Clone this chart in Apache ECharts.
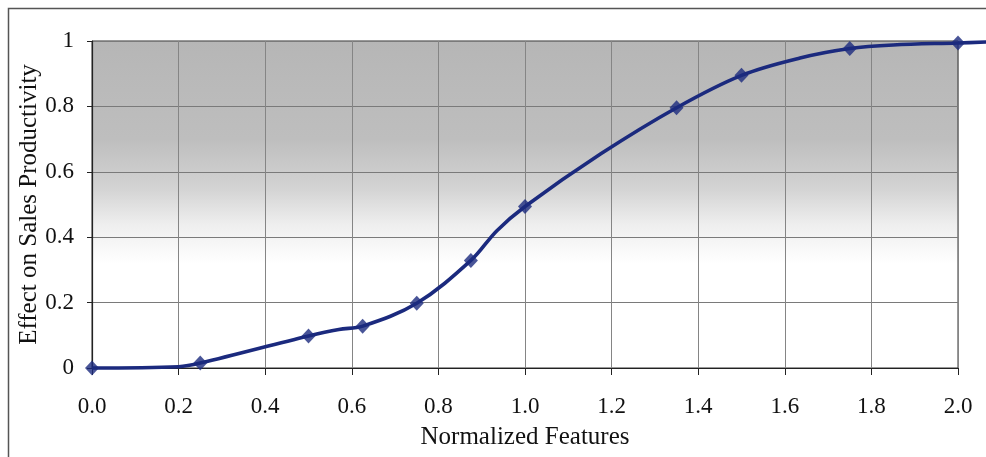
<!DOCTYPE html>
<html>
<head>
<meta charset="utf-8">
<script src="https://cdn.jsdelivr.net/npm/echarts@6/dist/echarts.min.js"></script>
<style>html,body{margin:0;padding:0;background:#fff;}#c{width:986px;height:457px;}</style>
</head>
<body>
<div id="c"></div>
<script>
// Marked data points
const markX = [0, 0.25, 0.5, 0.625, 0.75, 0.875, 1.0, 1.35, 1.5, 1.75, 2.0];
const markY = [0, 0.015, 0.098, 0.128, 0.198, 0.329, 0.494, 0.796, 0.895, 0.977, 0.994];
// Unmarked points along the drawn curve (shape of the line between markers)
const curveX = [0, 0.2, 0.25, 0.5, 0.57, 0.625, 0.75, 0.875, 0.935, 1.0, 1.175, 1.35, 1.5, 1.635, 1.75, 1.85, 2.0, 2.065];
const curveY = [0, 0.004, 0.015, 0.098, 0.118, 0.128, 0.198, 0.329, 0.42, 0.494, 0.655, 0.796, 0.895, 0.948, 0.977, 0.988, 0.994, 0.997];
const xTicks = ['0.0','0.2','0.4','0.6','0.8','1.0','1.2','1.4','1.6','1.8','2.0'];

const lineColor = '#1b2a7e';
const font = '"Liberation Serif", "Times New Roman", serif';

const chart = echarts.init(document.getElementById('c'));
chart.setOption({
  animation: false,
  backgroundColor: '#fff',
  graphic: [{
    type: 'rect', silent: true, z: 100,
    shape: {x: 8.5, y: 8.5, width: 1100, height: 600},
    style: {fill: 'none', stroke: '#555', lineWidth: 1.5}
  }],
  grid: [{
    left: 92, right: 28, top: 41, bottom: 89,
    show: true, borderColor: '#333', borderWidth: 1,
    backgroundColor: {
      type: 'linear', x: 0, y: 0, x2: 0, y2: 1,
      colorStops: [
        {offset: 0, color: '#b6b6b6'},
        {offset: 0.3, color: '#bebebe'},
        {offset: 0.45, color: '#d3d3d3'},
        {offset: 0.56, color: '#eeeeee'},
        {offset: 0.68, color: '#ffffff'},
        {offset: 1, color: '#ffffff'}
      ]
    }
  }, {
    // overlay grid with the same scale, reaching to the right edge, for the line that runs past 2.0
    left: 92, right: 0, top: 41, bottom: 89, show: false
  }],
  xAxis: [{
    type: 'value', min: 0, max: 2.0, interval: 0.2,
    name: 'Normalized Features', nameLocation: 'middle', nameGap: 57, nameMoveOverlap: false,
    nameTextStyle: {fontFamily: font, fontSize: 25, color: '#111'},
    axisLine: {show: true, lineStyle: {color: '#222', width: 1.2}},
    axisTick: {show: true, inside: false, length: 7, lineStyle: {color: '#222'}},
    axisLabel: {margin: 27, fontFamily: font, fontSize: 23, color: '#111',
      formatter: (v) => xTicks[Math.round(v / 0.2)]},
    splitLine: {show: true, lineStyle: {color: '#858585', width: 1}}
  }, {
    type: 'value', gridIndex: 1, min: 0, max: 2.0645, show: false,
    splitLine: {show: false}
  }],
  yAxis: [{
    type: 'value', min: 0, max: 1, interval: 0.2,
    name: 'Effect on Sales Productivity', nameLocation: 'middle', nameGap: 50, nameMoveOverlap: false,
    nameTextStyle: {fontFamily: font, fontSize: 25, color: '#111'},
    axisLine: {show: true, lineStyle: {color: '#222', width: 1.2}},
    axisTick: {show: true, inside: false, length: 5, lineStyle: {color: '#222'}},
    axisLabel: {margin: 18, fontFamily: font, fontSize: 23, color: '#111',
      formatter: (v) => (v === 0 || v === 1) ? String(v) : v.toFixed(1)},
    splitLine: {show: true, lineStyle: {color: '#7a7a7a', width: 1}}
  }, {
    type: 'value', gridIndex: 1, min: 0, max: 1, show: false,
    splitLine: {show: false}
  }],
  series: [
    {
      type: 'line', xAxisIndex: 1, yAxisIndex: 1,
      smooth: 0.35, clip: false, showSymbol: false, symbol: 'none',
      data: curveX.map((x, i) => [x, curveY[i]]),
      lineStyle: {color: lineColor, width: 3.6},
      z: 3
    },
    {
      type: 'scatter', symbol: 'diamond', symbolSize: [14, 15], clip: false,
      data: markX.map((x, i) => [x, markY[i]]),
      itemStyle: {color: lineColor},
      z: 4
    }
  ]
});
</script>
</body>
</html>
